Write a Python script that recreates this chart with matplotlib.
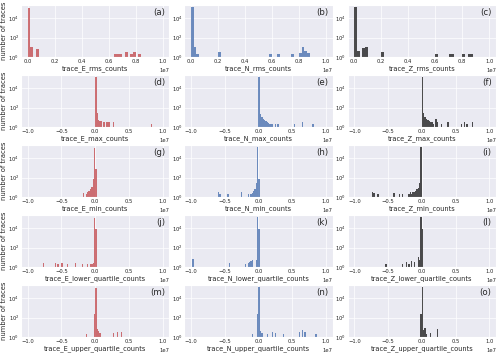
import numpy as np
import matplotlib
matplotlib.use('agg')
from matplotlib import pyplot as plt
import seaborn as sns

# bin left edges are in units of 1e7 counts, bin width 0.02e7
BIN_W = 0.02

E_rms_bins = [0.00, 0.02, 0.06, 0.64, 0.66, 0.68, 0.72, 0.76, 0.78, 0.82]
E_rms_n = [1.2e5, 11, 6, 2, 2, 2, 3, 2, 3, 2]
N_rms_bins = [0.00, 0.02, 0.04, 0.20, 0.58, 0.64, 0.74, 0.80, 0.82, 0.84, 0.86]
N_rms_n = [1.5e5, 10, 2, 3.5, 2, 2, 2, 2.5, 10, 4, 2.5]
Z_rms_bins = [0.00, 0.02, 0.06, 0.08, 0.20, 0.60, 0.70, 0.72, 0.80, 0.84, 0.86]
Z_rms_n = [1.5e5, 4, 8, 10, 3, 2, 2, 2, 2, 2, 2]

E_max_bins = [0.00, 0.02, 0.04, 0.06, 0.08, 0.12, 0.16, 0.18, 0.20, 0.26, 0.82]
E_max_n = [1.4e5, 28, 5, 4.5, 4, 3, 3, 3, 3, 3, 2]
N_max_bins = [0.00, 0.02, 0.04, 0.06, 0.08, 0.10, 0.12, 0.14, 0.16, 0.18, 0.20,
              0.24, 0.28, 0.52, 0.64, 0.80]
N_max_n = [1.5e5, 20, 10, 6, 5, 4, 3, 2.5, 2, 2, 2, 2, 2, 2, 3, 2]
Z_max_bins = [0.00, 0.02, 0.04, 0.06, 0.08, 0.10, 0.12, 0.14, 0.16, 0.20, 0.22,
              0.28, 0.38, 0.58, 0.62, 0.66, 0.74]
Z_max_n = [1.5e5, 30, 10, 6, 5, 4, 3, 3, 2, 6, 3, 2, 3, 2, 3, 2, 3]

E_min_bins = [-0.02, 0.00, -0.04, -0.06, -0.08, -0.10, -0.12, -0.14, -0.18]
E_min_n = [1.3e5, 800, 80, 12, 6, 4, 3, 2, 2.5]
N_min_bins = [-0.02, 0.00, -0.04, -0.06, -0.08, -0.10, -0.12, -0.16, -0.26,
              -0.46, -0.58, -0.60]
N_min_n = [1.5e5, 80, 30, 6, 4, 2.5, 2, 2, 3, 2, 2, 3]
Z_min_bins = [-0.02, -0.04, -0.06, -0.08, -0.10, -0.12, -0.14, -0.16, -0.18,
              -0.20, -0.30, -0.34, -0.42, -0.66, -0.72, -0.74]
Z_min_n = [1.5e5, 30, 8, 6, 4, 3, 3, 2, 3, 2, 2, 2, 2.5, 2, 2.5, 3.5]

E_lq_bins = [-0.02, 0.00, -0.04, -0.06, -0.08, -0.12, -0.20, -0.30, -0.42,
             -0.50, -0.56, -0.60, -0.78]
E_lq_n = [1.3e5, 8000, 2.5, 2, 2, 2, 2, 2.5, 2, 2.5, 2, 2.5, 2.5]
N_lq_bins = [-0.02, 0.00, -0.04, -0.10, -0.12, -0.14, -0.16, -0.20, -0.44, -0.98]
N_lq_n = [1.5e5, 8000, 5, 5, 4, 3, 2.5, 2, 2.5, 6]
Z_lq_bins = [-0.02, 0.00, -0.04, -0.06, -0.12, -0.16, -0.20, -0.24, -0.30, -0.54]
Z_lq_n = [1.4e5, 8000, 5, 10, 3, 4, 2, 3, 2, 2]

E_uq_bins = [0.00, -0.02, 0.02, 0.04, 0.06, -0.14, 0.26, 0.32, 0.38]
E_uq_n = [1.3e5, 250, 6, 4, 2.5, 2, 2.5, 3.5, 3.5]
N_uq_bins = [0.00, -0.02, 0.02, 0.04, -0.10, 0.12, 0.20, 0.24, 0.36, 0.60,
             0.64, 0.68, 0.84]
N_uq_n = [1.5e5, 250, 4, 2.5, 2, 2, 3, 2.5, 2, 3, 5, 3, 2]
Z_uq_bins = [0.00, -0.02, 0.02, 0.04, 0.06, 0.12, 0.22]
Z_uq_n = [1.4e5, 250, 5, 8, 2, 2.5, 6]

stats = ['rms', 'max', 'min', 'lower_quartile', 'upper_quartile']
comps = ['E', 'N', 'Z']
colors = {'E': '#C44E52', 'N': '#4C72B0', 'Z': '#222222'}
letters = 'abcdefghijklmno'

data = {
    ('E', 'rms'): (E_rms_bins, E_rms_n), ('N', 'rms'): (N_rms_bins, N_rms_n),
    ('Z', 'rms'): (Z_rms_bins, Z_rms_n),
    ('E', 'max'): (E_max_bins, E_max_n), ('N', 'max'): (N_max_bins, N_max_n),
    ('Z', 'max'): (Z_max_bins, Z_max_n),
    ('E', 'min'): (E_min_bins, E_min_n), ('N', 'min'): (N_min_bins, N_min_n),
    ('Z', 'min'): (Z_min_bins, Z_min_n),
    ('E', 'lower_quartile'): (E_lq_bins, E_lq_n),
    ('N', 'lower_quartile'): (N_lq_bins, N_lq_n),
    ('Z', 'lower_quartile'): (Z_lq_bins, Z_lq_n),
    ('E', 'upper_quartile'): (E_uq_bins, E_uq_n),
    ('N', 'upper_quartile'): (N_uq_bins, N_uq_n),
    ('Z', 'upper_quartile'): (Z_uq_bins, Z_uq_n),
}

sns.set_style('darkgrid')
plt.rcParams['font.family'] = ['DejaVu Sans']

fig, axes = plt.subplots(5, 3, figsize=(5, 3.55), dpi=100)
fig.subplots_adjust(left=0.042, right=0.992, top=0.986, bottom=0.051,
                    wspace=0.1, hspace=0.346)

k = 0
for i, st in enumerate(stats):
    for j, c in enumerate(comps):
        ax = axes[i, j]
        bins, n = data[(c, st)]
        ax.bar(np.array(bins) * 1e7, n, width=BIN_W * 1e7, align='edge',
               color=colors[c], alpha=0.8, linewidth=0)
        ax.set_yscale('log')
        ax.set_ylim(1, 2.5e5)
        ax.set_yticks([1, 1e2, 1e4])
        ax.minorticks_off()
        if st == 'rms':
            ax.set_xlim(-0.05e7, 1.05e7)
            ax.set_xticks(np.arange(0, 1.01, 0.2) * 1e7)
        else:
            ax.set_xlim(-1.1e7, 1.1e7)
            ax.set_xticks(np.arange(-1, 1.01, 0.5) * 1e7)
        ax.tick_params(labelsize=3.8, pad=1.2, length=0)
        ax.xaxis.get_offset_text().set_fontsize(3.8)
        ax.grid(linewidth=0.5)
        ax.set_xlabel('trace_%s_%s_counts' % (c, st), fontsize=4.8, labelpad=1)
        if j == 0:
            ax.set_ylabel('number of traces', fontsize=4.9, labelpad=1)
        ax.text(0.97, 0.86, '(%s)' % letters[k], transform=ax.transAxes,
                ha='right', va='center', fontsize=6.2)
        k += 1

plt.savefig('out.png', dpi=100)
